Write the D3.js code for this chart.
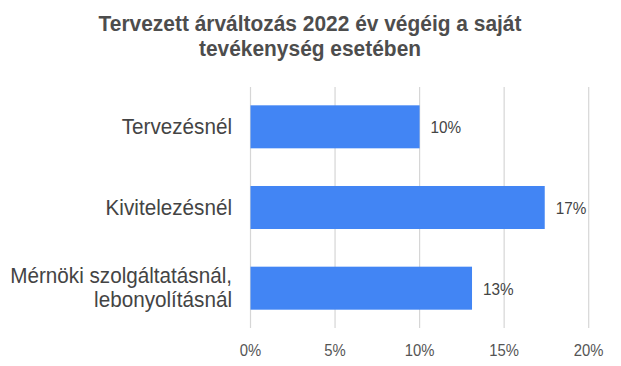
<!DOCTYPE html>
<html>
<head>
<meta charset="utf-8">
<script src="https://cdn.jsdelivr.net/npm/d3@7"></script>
<style>
  html, body { margin: 0; padding: 0; background: #fff; }
  svg { display: block; }
  text { font-family: "Liberation Sans", Arial, sans-serif; }
</style>
</head>
<body>
<svg id="chart" width="621" height="366"></svg>
<script>
const titleLines = ["Tervezett árváltozás 2022 év végéig a saját", "tevékenység esetében"];
const categories = ["Tervezésnél", "Kivitelezésnél", "Mérnöki szolgáltatásnál,\nlebonyolításnál"];
const values = [10, 17.4, 13.1];
const valueLabels = ["10%", "17%", "13%"];
const ticks = [0, 5, 10, 15, 20];
const tickLabels = ["0%", "5%", "10%", "15%", "20%"];

const svg = d3.select("#chart");
const SX = 0.9;

const x = d3.scaleLinear().domain([0, 20]).range([250.5, 588.7]);
const y = d3.scaleBand().domain(categories).range([87, 328]).paddingInner(0.467).paddingOuter(0.227);

// title
const title = svg.append("g");
titleLines.forEach((t, i) => {
  title.append("text")
    .attr("transform", `translate(310,${31 + i * 25}) scale(0.93,1)`)
    .attr("text-anchor", "middle")
    .attr("font-size", 22.5)
    .attr("font-weight", "bold")
    .attr("fill", "#4d4d4d")
    .text(t);
});

// gridlines
svg.append("g").selectAll("line").data(ticks).join("line")
  .attr("x1", d => x(d)).attr("x2", d => x(d))
  .attr("y1", 87).attr("y2", 328)
  .attr("stroke", "#d6d6d6").attr("stroke-width", 1.2);

// bars
svg.append("g").selectAll("rect").data(categories).join("rect")
  .attr("x", x(0))
  .attr("y", d => y(d))
  .attr("width", (d, i) => x(values[i]) - x(0))
  .attr("height", y.bandwidth())
  .attr("fill", "#4285f4");

// value labels
svg.append("g").selectAll("text").data(categories).join("text")
  .attr("transform", (d, i) => `translate(${x(values[i]) + 11},${y(d) + y.bandwidth() / 2 + 6.5}) scale(${SX},1)`)
  .attr("font-size", 17)
  .attr("fill", "#444")
  .text((d, i) => valueLabels[i]);

// category labels
const catG = svg.append("g");
categories.forEach(c => {
  const lines = c.split("\n");
  const cy = y(c) + y.bandwidth() / 2;
  lines.forEach((l, j) => {
    const off = (j - (lines.length - 1) / 2) * 23.5;
    catG.append("text")
      .attr("transform", `translate(232,${cy + off + 7}) scale(0.94,1)`)
      .attr("text-anchor", "end")
      .attr("font-size", 22)
      .attr("fill", "#444")
      .text(l);
  });
});

// x axis tick labels
const axis = d3.axisBottom(x).tickValues(ticks).tickSize(0).tickFormat((d, i) => tickLabels[i]);
const ax = svg.append("g").attr("transform", "translate(0,328)").call(axis);
ax.select(".domain").remove();
ax.selectAll("text")
  .attr("y", 0).attr("dy", 0)
  .attr("transform", "translate(0,28)")
  .attr("font-size", 16.5)
  .attr("font-family", "'Liberation Sans', Arial, sans-serif")
  .attr("fill", "#555");
ax.selectAll(".tick").each(function(d) {
  d3.select(this).attr("transform", `translate(${x(d)},0) scale(${SX},1)`);
});
</script>
</body>
</html>
